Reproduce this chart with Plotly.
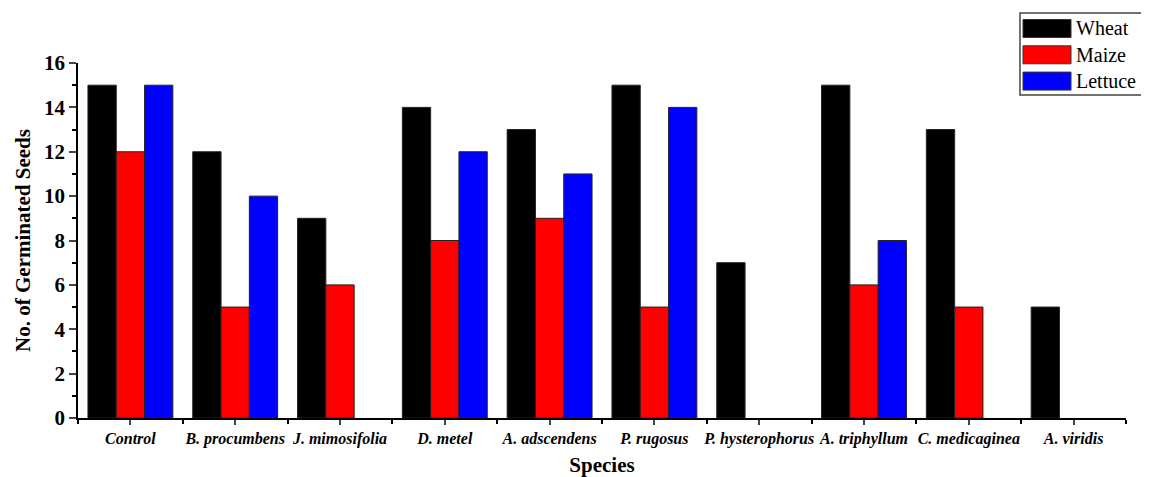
import plotly.graph_objects as go

species = ["Control", "B. procumbens", "J. mimosifolia", "D. metel", "A. adscendens",
           "P. rugosus", "P. hysterophorus", "A. triphyllum", "C. medicaginea", "A. viridis"]
wheat = [15, 12, 9, 14, 13, 15, 7, 15, 13, 5]
maize = [12, 5, 6, 8, 9, 5, 0, 6, 5, 0]
lettuce = [15, 10, 0, 12, 11, 14, 0, 8, 0, 0]

series = [("Wheat", wheat, "#000000"), ("Maize", maize, "#ff0000"), ("Lettuce", lettuce, "#0000ff")]
xpos = list(range(len(species)))

W, H = 1149, 477
ML, MR, MT, MB = 70, 31, 55, 67
PW, PH = W - ML - MR, H - MT - MB

def px(xp):
    return (xp - ML) / PW

def py(yp):
    return (H - MB - yp) / PH

FONT = "Liberation Serif, Times New Roman, serif"
fig = go.Figure()
for name, vals, col in series:
    fig.add_trace(go.Bar(x=xpos, y=[v if v else None for v in vals], name=name,
                         marker=dict(color=col, line=dict(color="#222222", width=1)),
                         showlegend=False))

# custom legend (box, wide swatches, labels)
shapes = [dict(type="rect", xref="paper", yref="paper", x0=px(1012), x1=px(1138), y0=py(87), y1=py(5),
               line=dict(color="#444444", width=1.5), fillcolor="white", layer="above")]
annotations = []
for i, (name, vals, col) in enumerate(series):
    top = 11.5 + i * 26.3
    shapes.append(dict(type="rect", xref="paper", yref="paper", x0=px(1015), x1=px(1063),
                       y0=py(top + 18), y1=py(top), fillcolor=col,
                       line=dict(color="#333333", width=1), layer="above"))
    annotations.append(dict(xref="paper", yref="paper", x=px(1066), y=py(top + 9), text=name,
                            showarrow=False, xanchor="left", yanchor="middle",
                            font=dict(size=20, family=FONT, color="black")))

fig.update_layout(
    width=W, height=H,
    barmode="group", bargap=0.19, bargroupgap=0,
    margin=dict(l=ML, r=MR, t=MT, b=MB, autoexpand=False),
    plot_bgcolor="white", paper_bgcolor="white",
    font=dict(family=FONT, color="black"),
    showlegend=False, shapes=shapes, annotations=annotations,
)
fig.update_xaxes(
    range=[-0.5, len(species) - 0.5], tickvals=xpos,
    ticktext=["<b><i>%s</i></b>" % s for s in species],
    tickfont=dict(size=16, family=FONT), ticks="outside", ticklen=5, tickwidth=1.5,
    showline=True, linecolor="black", linewidth=1.5, showgrid=False, zeroline=False,
    minor=dict(dtick=0.5, tick0=-0.5, ticks="outside", ticklen=4, tickwidth=1.5, tickcolor="black"),
    title=dict(text="<b>Species</b>", font=dict(size=21, family=FONT), standoff=10),
    automargin=False,
)
fig.update_yaxes(
    range=[0, 16], dtick=2, tickfont=dict(size=21, family=FONT),
    tickprefix="<b>", ticksuffix="</b>",
    ticks="outside", ticklen=7, tickwidth=1.5,
    showline=True, linecolor="black", linewidth=1.5, showgrid=False, zeroline=False,
    minor=dict(dtick=1, ticks="outside", ticklen=4, tickwidth=1.5, tickcolor="black"),
    title=dict(text="<b>No. of Germinated Seeds</b>", font=dict(size=21, family=FONT), standoff=8),
    automargin=False,
)
fig.write_html("out.html")
